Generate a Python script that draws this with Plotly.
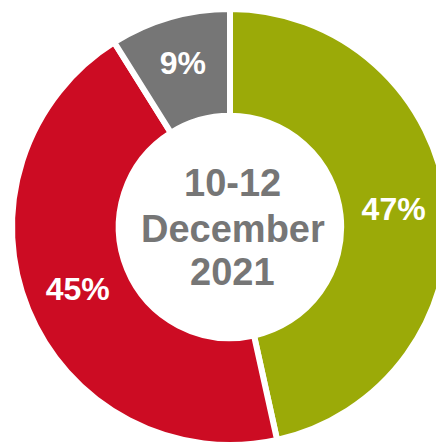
import plotly.graph_objects as go

labels = ["Green", "Red", "Grey"]
values = [47, 45, 9]
value_text = ["47%", "45%", "9%"]
colors = ["#9BAA08", "#CC0C23", "#767676"]
center_lines = ["10-12", "December", "2021"]

W, H = 460, 460
cx, cy, r = 230, 227, 218

fig = go.Figure(go.Pie(
    labels=labels,
    values=values,
    text=value_text,
    textinfo="text",
    texttemplate="<b>%{text}</b>",
    textposition="inside",
    insidetextorientation="horizontal",
    textfont=dict(family="Liberation Sans, Arial, sans-serif", size=32, color="white", weight="bold"),
    hole=0.51,
    sort=False,
    direction="clockwise",
    rotation=0,
    marker=dict(colors=colors, line=dict(color="white", width=6)),
    domain=dict(x=[(cx - r) / W, (cx + r) / W], y=[(H - cy - r) / H, (H - cy + r) / H]),
    hoverinfo="skip",
    showlegend=False,
))

line_y = [183, 229, 272]
for txt, yy in zip(center_lines, line_y):
    fig.add_annotation(
        text="<b>%s</b>" % txt, x=233 / W, y=1 - yy / H, xref="paper", yref="paper",
        showarrow=False, xanchor="center", yanchor="middle",
        font=dict(family="Liberation Sans, Arial, sans-serif", size=38, color="#767676"),
    )

fig.update_layout(
    width=W, height=H,
    margin=dict(l=0, r=0, t=0, b=0),
    paper_bgcolor="white", plot_bgcolor="white",
    showlegend=False,
)

fig.write_html("out.html", config={"displayModeBar": False},
               post_script="document.body.style.margin='0';document.body.style.overflow='hidden';document.documentElement.style.overflow='hidden';")
